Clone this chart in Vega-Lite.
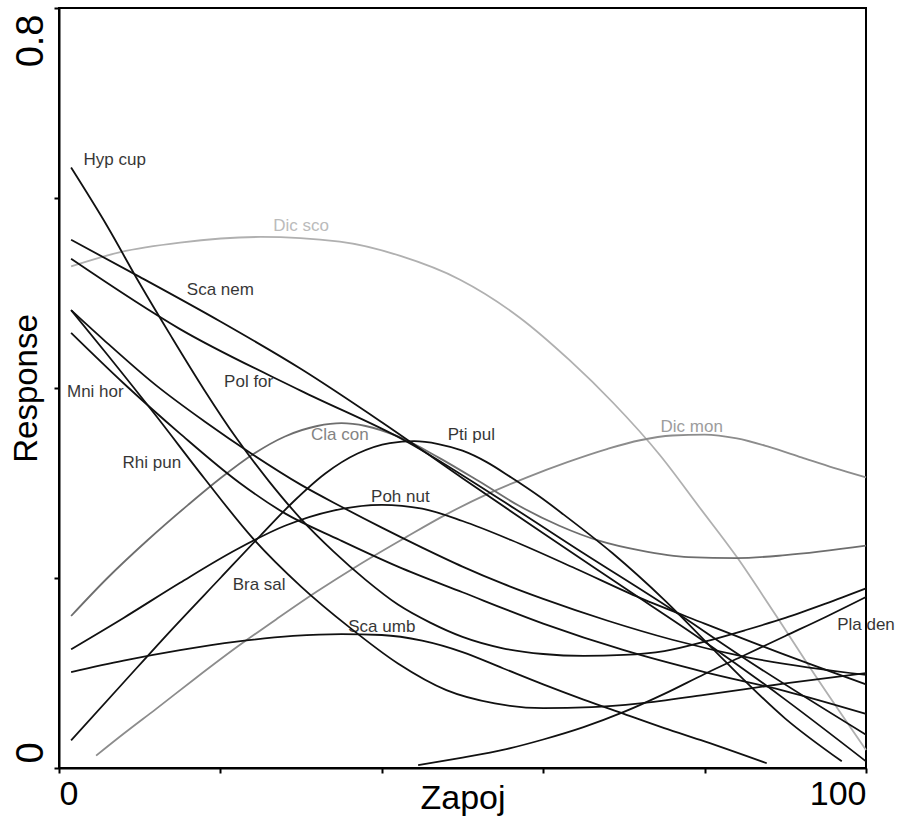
{
  "$schema": "https://vega.github.io/schema/vega-lite/v6.json",
  "width": 807,
  "height": 760,
  "autosize": {"type": "none"},
  "padding": {"left": 59, "top": 8, "right": 35, "bottom": 53},
  "background": "white",
  "datasets": {
    "curves": [
      {"s":"Dic sco","x":1.5,"y":0.528},{"s":"Dic sco","x":7.6,"y":0.543},{"s":"Dic sco","x":15,"y":0.553},{"s":"Dic sco","x":25,"y":0.559},{"s":"Dic sco","x":34.8,"y":0.554},{"s":"Dic sco","x":42.3,"y":0.539},{"s":"Dic sco","x":49.7,"y":0.514},{"s":"Dic sco","x":57.1,"y":0.474},{"s":"Dic sco","x":63.3,"y":0.429},{"s":"Dic sco","x":68.6,"y":0.385},{"s":"Dic sco","x":74.5,"y":0.329},{"s":"Dic sco","x":79.4,"y":0.274},{"s":"Dic sco","x":84,"y":0.222},{"s":"Dic sco","x":88.5,"y":0.165},{"s":"Dic sco","x":93.9,"y":0.095},{"s":"Dic sco","x":100,"y":0.019},
      {"s":"Dic mon","x":4.6,"y":0.013},{"s":"Dic mon","x":8,"y":0.036},{"s":"Dic mon","x":12,"y":0.062},{"s":"Dic mon","x":17,"y":0.095},{"s":"Dic mon","x":22,"y":0.127},{"s":"Dic mon","x":27,"y":0.157},{"s":"Dic mon","x":32,"y":0.186},{"s":"Dic mon","x":37,"y":0.213},{"s":"Dic mon","x":43,"y":0.243},{"s":"Dic mon","x":48,"y":0.267},{"s":"Dic mon","x":53,"y":0.288},{"s":"Dic mon","x":58,"y":0.306},{"s":"Dic mon","x":63,"y":0.322},{"s":"Dic mon","x":68,"y":0.336},{"s":"Dic mon","x":72,"y":0.345},{"s":"Dic mon","x":76,"y":0.35},{"s":"Dic mon","x":80,"y":0.351},{"s":"Dic mon","x":84,"y":0.347},{"s":"Dic mon","x":88,"y":0.338},{"s":"Dic mon","x":92,"y":0.327},{"s":"Dic mon","x":96,"y":0.316},{"s":"Dic mon","x":100,"y":0.306},
      {"s":"Cla con","x":1.5,"y":0.16},{"s":"Cla con","x":6,"y":0.2},{"s":"Cla con","x":11,"y":0.24},{"s":"Cla con","x":16,"y":0.277},{"s":"Cla con","x":20,"y":0.305},{"s":"Cla con","x":24,"y":0.33},{"s":"Cla con","x":28,"y":0.349},{"s":"Cla con","x":32,"y":0.36},{"s":"Cla con","x":35,"y":0.363},{"s":"Cla con","x":38,"y":0.36},{"s":"Cla con","x":42,"y":0.349},{"s":"Cla con","x":47,"y":0.327},{"s":"Cla con","x":52,"y":0.302},{"s":"Cla con","x":57,"y":0.276},{"s":"Cla con","x":62,"y":0.255},{"s":"Cla con","x":67,"y":0.239},{"s":"Cla con","x":72,"y":0.229},{"s":"Cla con","x":78,"y":0.222},{"s":"Cla con","x":84,"y":0.221},{"s":"Cla con","x":90,"y":0.224},{"s":"Cla con","x":100,"y":0.234},
      {"s":"Hyp cup","x":1.5,"y":0.632},{"s":"Hyp cup","x":6,"y":0.57},{"s":"Hyp cup","x":10,"y":0.51},{"s":"Hyp cup","x":14,"y":0.453},{"s":"Hyp cup","x":18,"y":0.398},{"s":"Hyp cup","x":22,"y":0.347},{"s":"Hyp cup","x":26,"y":0.302},{"s":"Hyp cup","x":30,"y":0.262},{"s":"Hyp cup","x":34,"y":0.228},{"s":"Hyp cup","x":38,"y":0.198},{"s":"Hyp cup","x":42,"y":0.172},{"s":"Hyp cup","x":46,"y":0.153},{"s":"Hyp cup","x":50,"y":0.138},{"s":"Hyp cup","x":55,"y":0.126},{"s":"Hyp cup","x":60,"y":0.12},{"s":"Hyp cup","x":65,"y":0.118},{"s":"Hyp cup","x":70,"y":0.119},{"s":"Hyp cup","x":75,"y":0.123},{"s":"Hyp cup","x":80,"y":0.133},{"s":"Hyp cup","x":85,"y":0.145},{"s":"Hyp cup","x":90,"y":0.158},{"s":"Hyp cup","x":95,"y":0.173},{"s":"Hyp cup","x":100,"y":0.189},
      {"s":"Sca nem","x":1.5,"y":0.556},{"s":"Sca nem","x":10,"y":0.517},{"s":"Sca nem","x":20,"y":0.47},{"s":"Sca nem","x":30,"y":0.42},{"s":"Sca nem","x":40,"y":0.364},{"s":"Sca nem","x":50,"y":0.305},{"s":"Sca nem","x":60,"y":0.247},{"s":"Sca nem","x":70,"y":0.19},{"s":"Sca nem","x":80,"y":0.133},{"s":"Sca nem","x":90,"y":0.072},{"s":"Sca nem","x":100,"y":0.007},
      {"s":"Pol for","x":1.5,"y":0.536},{"s":"Pol for","x":15,"y":0.462},{"s":"Pol for","x":30,"y":0.397},{"s":"Pol for","x":43,"y":0.344},{"s":"Pol for","x":55,"y":0.281},{"s":"Pol for","x":65,"y":0.226},{"s":"Pol for","x":75,"y":0.172},{"s":"Pol for","x":85,"y":0.115},{"s":"Pol for","x":100,"y":0.035},
      {"s":"Mni hor","x":1.5,"y":0.482},{"s":"Mni hor","x":5.5,"y":0.451},{"s":"Mni hor","x":12,"y":0.403},{"s":"Mni hor","x":18,"y":0.365},{"s":"Mni hor","x":24,"y":0.33},{"s":"Mni hor","x":30,"y":0.298},{"s":"Mni hor","x":35,"y":0.275},{"s":"Mni hor","x":40,"y":0.253},{"s":"Mni hor","x":45,"y":0.232},{"s":"Mni hor","x":50,"y":0.212},{"s":"Mni hor","x":55,"y":0.194},{"s":"Mni hor","x":60,"y":0.178},{"s":"Mni hor","x":68,"y":0.155},{"s":"Mni hor","x":76,"y":0.135},{"s":"Mni hor","x":85,"y":0.117},{"s":"Mni hor","x":100,"y":0.098},
      {"s":"Rhi pun","x":1.5,"y":0.458},{"s":"Rhi pun","x":8,"y":0.405},{"s":"Rhi pun","x":15,"y":0.352},{"s":"Rhi pun","x":22.4,"y":0.3},{"s":"Rhi pun","x":28,"y":0.268},{"s":"Rhi pun","x":34.8,"y":0.24},{"s":"Rhi pun","x":42,"y":0.212},{"s":"Rhi pun","x":50,"y":0.185},{"s":"Rhi pun","x":60,"y":0.152},{"s":"Rhi pun","x":70,"y":0.124},{"s":"Rhi pun","x":80,"y":0.101},{"s":"Rhi pun","x":90,"y":0.081},{"s":"Rhi pun","x":100,"y":0.057},
      {"s":"Bra sal","x":1.5,"y":0.482},{"s":"Bra sal","x":6,"y":0.435},{"s":"Bra sal","x":12,"y":0.371},{"s":"Bra sal","x":18,"y":0.305},{"s":"Bra sal","x":24,"y":0.242},{"s":"Bra sal","x":30,"y":0.191},{"s":"Bra sal","x":36,"y":0.148},{"s":"Bra sal","x":42,"y":0.11},{"s":"Bra sal","x":48,"y":0.082},{"s":"Bra sal","x":54,"y":0.068},{"s":"Bra sal","x":60,"y":0.063},{"s":"Bra sal","x":66,"y":0.064},{"s":"Bra sal","x":72,"y":0.068},{"s":"Bra sal","x":80,"y":0.077},{"s":"Bra sal","x":90,"y":0.089},{"s":"Bra sal","x":100,"y":0.1},
      {"s":"Poh nut","x":1.5,"y":0.125},{"s":"Poh nut","x":8,"y":0.158},{"s":"Poh nut","x":15,"y":0.195},{"s":"Poh nut","x":22,"y":0.23},{"s":"Poh nut","x":28,"y":0.255},{"s":"Poh nut","x":34,"y":0.271},{"s":"Poh nut","x":40,"y":0.277},{"s":"Poh nut","x":45,"y":0.273},{"s":"Poh nut","x":50,"y":0.26},{"s":"Poh nut","x":56,"y":0.24},{"s":"Poh nut","x":64,"y":0.21},{"s":"Poh nut","x":72,"y":0.179},{"s":"Poh nut","x":80,"y":0.152},{"s":"Poh nut","x":90,"y":0.119},{"s":"Poh nut","x":100,"y":0.088},
      {"s":"Pti pul","x":1.5,"y":0.029},{"s":"Pti pul","x":8,"y":0.09},{"s":"Pti pul","x":14,"y":0.146},{"s":"Pti pul","x":20,"y":0.2},{"s":"Pti pul","x":25,"y":0.245},{"s":"Pti pul","x":29,"y":0.28},{"s":"Pti pul","x":33,"y":0.31},{"s":"Pti pul","x":37,"y":0.331},{"s":"Pti pul","x":41,"y":0.342},{"s":"Pti pul","x":44,"y":0.344},{"s":"Pti pul","x":47,"y":0.341},{"s":"Pti pul","x":50,"y":0.334},{"s":"Pti pul","x":53,"y":0.322},{"s":"Pti pul","x":56,"y":0.306},{"s":"Pti pul","x":59.5,"y":0.286},{"s":"Pti pul","x":62.5,"y":0.267},{"s":"Pti pul","x":68.6,"y":0.226},{"s":"Pti pul","x":75,"y":0.177},{"s":"Pti pul","x":82,"y":0.117},{"s":"Pti pul","x":90,"y":0.052},{"s":"Pti pul","x":97,"y":0.007},
      {"s":"Sca umb","x":1.5,"y":0.101},{"s":"Sca umb","x":8,"y":0.113},{"s":"Sca umb","x":15,"y":0.124},{"s":"Sca umb","x":22,"y":0.133},{"s":"Sca umb","x":29,"y":0.139},{"s":"Sca umb","x":35,"y":0.141},{"s":"Sca umb","x":40,"y":0.14},{"s":"Sca umb","x":45,"y":0.134},{"s":"Sca umb","x":50,"y":0.122},{"s":"Sca umb","x":55,"y":0.105},{"s":"Sca umb","x":60,"y":0.088},{"s":"Sca umb","x":65,"y":0.072},{"s":"Sca umb","x":70,"y":0.057},{"s":"Sca umb","x":75,"y":0.042},{"s":"Sca umb","x":80,"y":0.028},{"s":"Sca umb","x":87.7,"y":0.005},
      {"s":"Pla den","x":44.5,"y":0.003},{"s":"Pla den","x":50,"y":0.011},{"s":"Pla den","x":55,"y":0.019},{"s":"Pla den","x":60,"y":0.03},{"s":"Pla den","x":65,"y":0.043},{"s":"Pla den","x":70,"y":0.059},{"s":"Pla den","x":75,"y":0.078},{"s":"Pla den","x":80,"y":0.099},{"s":"Pla den","x":85,"y":0.119},{"s":"Pla den","x":90,"y":0.139},{"s":"Pla den","x":95,"y":0.159},{"s":"Pla den","x":100,"y":0.18}
    ],
    "labels": [
      {"s":"Hyp cup","x":6.9,"y":0.64},
      {"s":"Dic sco","x":30.0,"y":0.571},
      {"s":"Sca nem","x":20.0,"y":0.503},
      {"s":"Pol for","x":23.5,"y":0.406},
      {"s":"Mni hor","x":4.5,"y":0.396},
      {"s":"Cla con","x":34.8,"y":0.351},
      {"s":"Pti pul","x":51.1,"y":0.351},
      {"s":"Rhi pun","x":11.5,"y":0.321},
      {"s":"Dic mon","x":78.4,"y":0.359},
      {"s":"Poh nut","x":42.3,"y":0.285},
      {"s":"Bra sal","x":24.8,"y":0.193},
      {"s":"Sca umb","x":40.0,"y":0.148},
      {"s":"Pla den","x":100,"y":0.151}
    ]
  },
  "encoding": {
    "x": {"field": "x", "type": "quantitative",
      "scale": {"domain": [0, 100], "nice": false, "zero": false},
      "axis": {
        "values": [0, 20, 40, 60, 80, 100],
        "labelExpr": "datum.value == 0 || datum.value == 100 ? datum.label : ''",
        "labelFlush": true,
        "labelFont": "Liberation Sans", "labelFontSize": 34, "labelColor": "black",
        "labelPadding": 4,
        "tickSize": 5, "tickWidth": 2, "tickColor": "black",
        "domainColor": "black", "domainWidth": 2,
        "grid": false,
        "title": "Zapoj",
        "titleFont": "Liberation Sans", "titleFontSize": 34, "titleFontWeight": "normal", "titleColor": "black",
        "titleY": 40, "titleBaseline": "alphabetic"
      }
    },
    "y": {"field": "y", "type": "quantitative",
      "scale": {"domain": [0, 0.8], "nice": false, "zero": false},
      "axis": {
        "values": [0, 0.2, 0.4, 0.6, 0.8],
        "labelExpr": "datum.value == 0 ? '0' : (datum.value == 0.8 ? '0.8' : '')",
        "labelAngle": -90,
        "labelAlign": {"condition": {"test": "datum.value == 0", "value": "left"}, "value": "right"},
        "labelOffset": {"condition": {"test": "datum.value == 0", "value": -5}, "value": 6},
        "labelBaseline": "alphabetic",
        "labelPadding": 12,
        "labelFont": "Liberation Sans", "labelFontSize": 38, "labelColor": "black",
        "tickSize": 5, "tickWidth": 2, "tickColor": "black",
        "domainColor": "black", "domainWidth": 2,
        "grid": false,
        "title": "Response",
        "titleFont": "Liberation Sans", "titleFontSize": 33, "titleFontWeight": "normal", "titleColor": "black",
        "titleAngle": -90, "titleX": -23, "titleY": 380, "titleAlign": "center", "titleBaseline": "alphabetic"
      }
    },
    "color": {"field": "s", "type": "nominal", "legend": null,
      "scale": {
        "domain": ["Dic sco", "Dic mon", "Cla con", "Hyp cup", "Sca nem", "Pol for", "Mni hor", "Rhi pun", "Bra sal", "Poh nut", "Pti pul", "Sca umb", "Pla den"],
        "range": ["#b0b0b0", "#8c8c8c", "#6e6e6e", "#111111", "#111111", "#111111", "#111111", "#111111", "#111111", "#111111", "#111111", "#111111", "#111111"]
      }
    }
  },
  "layer": [
    {
      "data": {"name": "curves"},
      "mark": {"type": "line", "interpolate": "monotone", "strokeWidth": 1.8},
      "encoding": {"detail": {"field": "s"}}
    },
    {
      "data": {"name": "labels"},
      "mark": {"type": "text", "font": "Liberation Sans", "fontSize": 17, "align": "center", "baseline": "middle", "opacity": 0.85},
      "encoding": {"text": {"field": "s"}}
    }
  ],
  "config": {
    "view": {"stroke": "black", "strokeWidth": 2}
  }
}
